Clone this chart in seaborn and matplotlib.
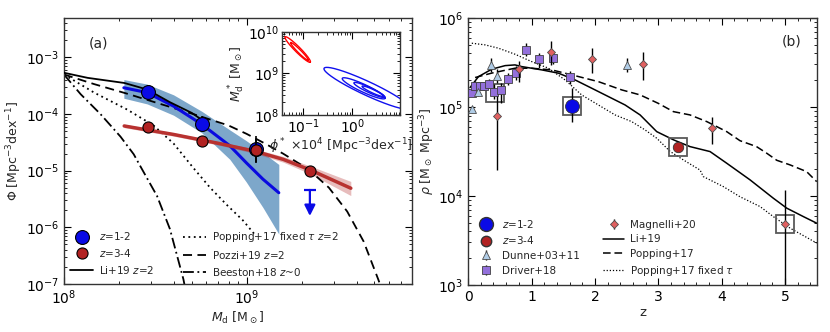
import numpy as np
import matplotlib
matplotlib.use("Agg")
import matplotlib.pyplot as plt
from matplotlib.lines import Line2D
import seaborn as sns

# ---------------- panel (a): dust mass function (log10 values) ----------------
blue_logm = [8.46, 8.754, 9.049]
blue_logphi = [-3.61, -4.175, -4.61]
blue_lo = [-3.72, -4.27, -4.86]
blue_hi = [-3.49, -4.03, -4.39]

red_logm = [8.46, 8.754, 9.049, 9.346]
red_logphi = [-4.23, -4.48, -4.64, -5.01]
red_lo = [-4.31, -4.54, -4.84, -5.07]
red_hi = [-4.15, -4.42, -4.44, -4.95]

ulim_logm = [9.346]
ulim_top = [-5.34]
ulim_tip = [-5.80]

fitb_logm = [8.328, 8.455, 8.60, 8.754, 8.908, 8.998, 9.089, 9.176]
fitb_logphi = [-3.535, -3.62, -3.86, -4.18, -4.56, -4.86, -5.15, -5.39]
fitb_top = [-3.39, -3.47, -3.66, -3.95, -4.28, -4.47, -4.68, -4.89]
fitb_bot = [-3.72, -3.82, -4.02, -4.33, -4.80, -5.20, -5.65, -6.12]

fitr_logm = [8.33, 8.6, 8.85, 9.05, 9.2, 9.35, 9.57]
fitr_logphi = [-4.21, -4.36, -4.52, -4.66, -4.80, -4.99, -5.31]
fitr_top = [-4.18, -4.33, -4.49, -4.62, -4.75, -4.92, -5.19]
fitr_bot = [-4.24, -4.39, -4.55, -4.70, -4.85, -5.06, -5.44]

li_logm = [8.0, 8.13, 8.33, 8.455, 8.58, 8.70, 8.745, 8.76]
li_logphi = [-3.27, -3.36, -3.45, -3.565, -3.79, -3.98, -4.08, -4.15]

pozzi_logm = [8.0, 8.165, 8.346, 8.527, 8.708, 8.9, 9.0, 9.1, 9.2, 9.3, 9.35, 9.45, 9.55, 9.64, 9.72, 9.74]
pozzi_logphi = [-3.30, -3.47, -3.64, -3.82, -4.00, -4.20, -4.35, -4.52, -4.70, -4.90, -5.01, -5.30, -5.72, -6.25, -6.92, -7.1]

popfix_logm = [8.0, 8.165, 8.346, 8.49, 8.60, 8.708, 8.80, 8.89, 8.98, 9.05]
popfix_logphi = [-3.30, -3.62, -3.92, -4.20, -4.52, -4.95, -5.30, -5.60, -5.88, -6.15]

beeston_logm = [8.0, 8.092, 8.20, 8.31, 8.382, 8.418, 8.51, 8.58, 8.654, 8.665]
beeston_logphi = [-3.30, -3.65, -4.0, -4.40, -4.71, -4.92, -5.45, -6.03, -6.92, -7.1]

# inset confidence contours: centre (log phi*, log M*), semi-axes, angle (deg)
red_contours = [(-1.115, 9.575, 0.40, 0.06, -50), (-1.08, 9.53, 0.28, 0.035, -50)]
blue_contours = [(0.30, 8.64, 1.0, 0.16, -29), (0.235, 8.64, 0.50, 0.09, -29),
                 (0.35, 8.60, 0.36, 0.06, -29), (0.42, 8.57, 0.25, 0.04, -29)]

# ---------------- panel (b): dust mass density (z, log10 rho) ----------------
driver_z = [0.058, 0.11, 0.19, 0.25, 0.33, 0.415, 0.52, 0.626, 0.76, 0.92, 1.115, 1.336, 1.61]
driver_lr = [5.161, 5.239, 5.233, 5.233, 5.258, 5.172, 5.19, 5.311, 5.379, 5.644, 5.536, 5.547, 5.334]
driver_elo = [0.04, 0.05, 0.04, 0.04, 0.05, 0.08, 0.15, 0.07, 0.08, 0.07, 0.10, 0.06, 0.08]
driver_ehi = [0.04, 0.05, 0.04, 0.04, 0.05, 0.08, 0.08, 0.07, 0.08, 0.07, 0.07, 0.06, 0.07]

dunne_z = [0.058, 0.163, 0.363, 0.457, 2.513]
dunne_lr = [4.974, 5.165, 5.472, 5.348, 5.472]
dunne_err = [0.03, 0.04, 0.08, 0.08, 0.08]

magnelli_z = [0.457, 0.81, 1.31, 1.95, 2.755, 3.853, 5.0]
magnelli_lr = [4.899, 5.424, 5.622, 5.536, 5.483, 4.767, 3.685]
magnelli_elo = [0.61, 0.14, 0.15, 0.15, 0.18, 0.18, 1.0]
magnelli_ehi = [0.22, 0.09, 0.12, 0.13, 0.13, 0.12, 0.38]

alma_blue = (1.635, 5.015, 0.18, 0.20)
alma_red = (3.317, 4.547, 0.03, 0.03)
boxed_z = [0.426, 1.635, 3.317, 5.0]
boxed_lr = [5.161, 5.015, 4.547, 3.685]

li_z = [0.03, 0.163, 0.373, 0.584, 0.74, 0.846, 1.162, 1.425, 1.688, 1.95, 2.16, 2.476, 2.713,
        2.976, 3.24, 3.5, 3.817, 4.08, 4.448, 4.815, 5.027, 5.29, 5.5]
li_lr = [5.217, 5.34, 5.424, 5.464, 5.472, 5.453, 5.416, 5.379, 5.303, 5.21, 5.135, 5.022, 4.91,
         4.722, 4.63, 4.554, 4.498, 4.367, 4.18, 3.974, 3.862, 3.767, 3.693]

pop_z = [0.11, 0.373, 0.74, 1.0, 1.32, 1.636, 2.055, 2.424, 2.713, 3.0, 3.238, 3.5, 3.765,
         4.08, 4.29, 4.55, 4.71, 4.87, 5.08, 5.34, 5.5]
pop_lr = [5.33, 5.38, 5.435, 5.435, 5.416, 5.36, 5.284, 5.191, 5.135, 5.04, 4.947, 4.91, 4.835,
          4.722, 4.62, 4.554, 4.48, 4.40, 4.348, 4.273, 4.16]

popfx_z = [0.058, 0.268, 0.478, 0.74, 1.0, 1.267, 1.53, 1.79, 2.055, 2.318, 2.58, 2.79, 2.976,
           3.186, 3.396, 3.66, 3.71, 4.027, 4.29, 4.606, 4.815, 5.08, 5.5]
popfx_lr = [5.716, 5.697, 5.66, 5.592, 5.51, 5.435, 5.303, 5.135, 5.022, 4.91, 4.835, 4.742, 4.648,
            4.50, 4.404, 4.29, 4.217, 4.104, 3.99, 3.88, 3.767, 3.637, 3.47]


def p10(a):
    return 10 ** np.asarray(a, dtype=float)


sns.set_style("ticks")
plt.rcParams.update({
    "font.family": ["DejaVu Sans"],
    "xtick.direction": "in", "ytick.direction": "in",
    "xtick.top": True, "ytick.right": True,
    "xtick.minor.visible": True, "ytick.minor.visible": True,
    "xtick.major.size": 5, "ytick.major.size": 5,
    "xtick.minor.size": 2.5, "ytick.minor.size": 2.5,
    "xtick.color": "k", "ytick.color": "k",
    "axes.edgecolor": "0.2", "axes.linewidth": 1.0,
    "font.size": 10, "mathtext.default": "it",
})

fig = plt.figure(figsize=(8.3, 3.32), dpi=100)
axa = fig.add_axes([0.077, 0.145, 0.419, 0.801])
axb = fig.add_axes([0.564, 0.142, 0.420, 0.804])
ins = fig.add_axes([0.340, 0.654, 0.142, 0.250])

# ---------------- (a) ----------------
axa.set_xscale("log")
axa.set_yscale("log")
axa.set_xlim(1e8, 8e9)
axa.set_ylim(1e-7, 5e-3)

axa.fill_between(p10(fitb_logm), p10(fitb_bot), p10(fitb_top), color="steelblue", alpha=0.7, lw=0, zorder=1)
axa.fill_between(p10(fitr_logm), p10(fitr_bot), p10(fitr_top), color="#b22222", alpha=0.3, lw=0, zorder=1)
sns.lineplot(x=p10(fitb_logm), y=p10(fitb_logphi), ax=axa, color="#0a0ae0", lw=2.2, zorder=3)
sns.lineplot(x=p10(fitr_logm), y=p10(fitr_logphi), ax=axa, color="#b83230", lw=2.5, zorder=3)

sns.lineplot(x=p10(li_logm), y=p10(li_logphi), ax=axa, color="k", lw=1.3, zorder=4)
sns.lineplot(x=p10(pozzi_logm), y=p10(pozzi_logphi), ax=axa, color="k", lw=1.3, linestyle=(0, (5, 3)), zorder=2)
sns.lineplot(x=p10(popfix_logm), y=p10(popfix_logphi), ax=axa, color="k", lw=1.3, linestyle=(0, (1, 2)), zorder=2)
sns.lineplot(x=p10(beeston_logm), y=p10(beeston_logphi), ax=axa, color="k", lw=1.3, linestyle=(0, (6, 2, 1, 2)), zorder=2)

bx, by = p10(blue_logm), p10(blue_logphi)
eb_blue = axa.errorbar(bx, by, yerr=[by - p10(blue_lo), p10(blue_hi) - by], fmt="o", ms=10,
                       mfc="#0a0ae6", mec="k", mew=0.8, ecolor="k", elinewidth=1.2, zorder=5)
rx, ry = p10(red_logm), p10(red_logphi)
eb_red = axa.errorbar(rx, ry, yerr=[ry - p10(red_lo), p10(red_hi) - ry], fmt="o", ms=8,
                      mfc="#b22222", mec="k", mew=0.8, ecolor="k", elinewidth=1.2, zorder=6)

for lm, top, tip in zip(ulim_logm, ulim_top, ulim_tip):
    axa.annotate("", xy=(10 ** lm, 10 ** tip), xytext=(10 ** lm, 10 ** top),
                 arrowprops=dict(arrowstyle="-|>", color="#0a0ae6", lw=1.6, mutation_scale=16,
                                 shrinkA=0, shrinkB=0))
    axa.plot(10 ** lm, 10 ** top, marker="_", ms=9, mew=1.6, color="#0a0ae6")

axa.text(0.07, 0.905, "(a)", transform=axa.transAxes, fontsize=10, va="center")
axa.set_xlabel(r"$M_{\rm d}$ [M$_\odot$]", fontsize=9, labelpad=2)
axa.set_ylabel(r"Φ [Mpc$^{-3}$dex$^{-1}$]", fontsize=9, labelpad=1)

handles_a = [eb_blue, eb_red, Line2D([], [], color="k", lw=1.3),
             Line2D([], [], color="k", lw=1.3, linestyle=(0, (1, 2))),
             Line2D([], [], color="k", lw=1.3, linestyle=(0, (5, 3))),
             Line2D([], [], color="k", lw=1.3, linestyle=(0, (6, 2, 1, 2)))]
labels_a = [r"$z$=1-2", r"$z$=3-4", r"Li+19 $z$=2", r"Popping+17 fixed $\tau$ $z$=2",
            r"Pozzi+19 $z$=2", r"Beeston+18 $z$~0"]
axa.legend(handles_a, labels_a, loc="lower left", ncol=2, fontsize=7.5, frameon=False,
           handlelength=2.2, handletextpad=0.6, columnspacing=2.7, labelspacing=0.45,
           borderaxespad=0.2)

# inset
ins.set_xscale("log")
ins.set_yscale("log")
ins.set_xlim(0.037, 9.5)
ins.set_ylim(1e8, 1e10)
t = np.linspace(0, 2 * np.pi, 200)
for contours, col in [(red_contours, "red"), (blue_contours, "#1010ee")]:
    for cx, cy, a, b, ang in contours:
        th = np.radians(ang)
        ex = cx + a * np.cos(t) * np.cos(th) - b * np.sin(t) * np.sin(th)
        ey = cy + a * np.cos(t) * np.sin(th) + b * np.sin(t) * np.cos(th)
        ins.plot(10 ** ex, 10 ** ey, color=col, lw=1.0)
ins.tick_params(labelsize=10, pad=2)
ins.set_xlabel(r"$\phi^*$ $\times$10$^4$ [Mpc$^{-3}$dex$^{-1}$]", fontsize=9, labelpad=0)
ins.set_ylabel(r"$M^*_{\rm d}$ [M$_\odot$]", fontsize=9, labelpad=1)
ins.set_facecolor("white")

# ---------------- (b) ----------------
axb.set_yscale("log")
axb.set_xlim(0, 5.5)
axb.set_ylim(1e3, 1e6)
axb.xaxis.set_minor_locator(matplotlib.ticker.MultipleLocator(0.2))

sns.lineplot(x=li_z, y=p10(li_lr), ax=axb, color="k", lw=1.1)
sns.lineplot(x=pop_z, y=p10(pop_lr), ax=axb, color="k", lw=1.1, linestyle=(0, (5, 2.5)))
sns.lineplot(x=popfx_z, y=p10(popfx_lr), ax=axb, color="k", lw=0.9, linestyle=(0, (1, 1.5)))

axb.plot(boxed_z, p10(boxed_lr), "s", ms=13, mfc="none", mec="0.35", mew=1.3, zorder=3)

dy = p10(driver_lr)
eb_drv = axb.errorbar(driver_z, dy, yerr=[dy - p10(np.subtract(driver_lr, driver_elo)),
                                          p10(np.add(driver_lr, driver_ehi)) - dy],
                      fmt="s", ms=5.5, mfc="#9370db", mec="0.25", mew=0.6, ecolor="k", elinewidth=1.0, zorder=4)
uy = p10(dunne_lr)
eb_dun = axb.errorbar(dunne_z, uy, yerr=[uy - p10(np.subtract(dunne_lr, dunne_err)),
                                         p10(np.add(dunne_lr, dunne_err)) - uy],
                      fmt="^", ms=6, mfc="#b0cce6", mec="0.3", mew=0.6, ecolor="k", elinewidth=1.0, zorder=4)
my = p10(magnelli_lr)
eb_mag = axb.errorbar(magnelli_z, my, yerr=[my - p10(np.subtract(magnelli_lr, magnelli_elo)),
                                            p10(np.add(magnelli_lr, magnelli_ehi)) - my],
                      fmt="D", ms=4.5, mfc="#e06060", mec="0.3", mew=0.6, ecolor="k", elinewidth=1.0, zorder=5)

for (z, lr, elo, ehi), col, ms in [(alma_blue, "#0a0ae6", 10), (alma_red, "#b22222", 7.5)]:
    yy = 10 ** lr
    axb.errorbar([z], [yy], yerr=[[yy - 10 ** (lr - elo)], [10 ** (lr + ehi) - yy]], fmt="o", ms=ms,
                 mfc=col, mec="0.2", mew=0.6, ecolor="k", elinewidth=1.0, zorder=6)

axb.text(0.927, 0.91, "(b)", transform=axb.transAxes, fontsize=10, ha="center", va="center")
axb.set_xlabel("z", fontsize=9.5, labelpad=2)
axb.set_ylabel(r"$\rho$ [M$_\odot$ Mpc$^{-3}$]", fontsize=9, labelpad=1)

handles_b = [Line2D([], [], marker="o", ls="none", ms=10, mfc="#0a0ae6", mec="0.2"),
             Line2D([], [], marker="o", ls="none", ms=7.5, mfc="#b22222", mec="0.2"),
             eb_dun, eb_drv, eb_mag,
             Line2D([], [], color="k", lw=1.1),
             Line2D([], [], color="k", lw=1.1, linestyle=(0, (5, 2.5))),
             Line2D([], [], color="k", lw=0.9, linestyle=(0, (1, 1.5)))]
labels_b = [r"$z$=1-2", r"$z$=3-4", "Dunne+03+11", "Driver+18", "Magnelli+20", "Li+19",
            "Popping+17", r"Popping+17 fixed $\tau$"]
axb.legend(handles_b, labels_b, loc="lower left", ncol=2, fontsize=7.5, frameon=False,
           handlelength=2.0, handletextpad=0.6, columnspacing=2.2, labelspacing=0.45,
           borderaxespad=0.3)

for ax in (axa, axb, ins):
    ax.tick_params(which="both", direction="in", top=True, right=True)

fig.savefig("out.png", dpi=100)
